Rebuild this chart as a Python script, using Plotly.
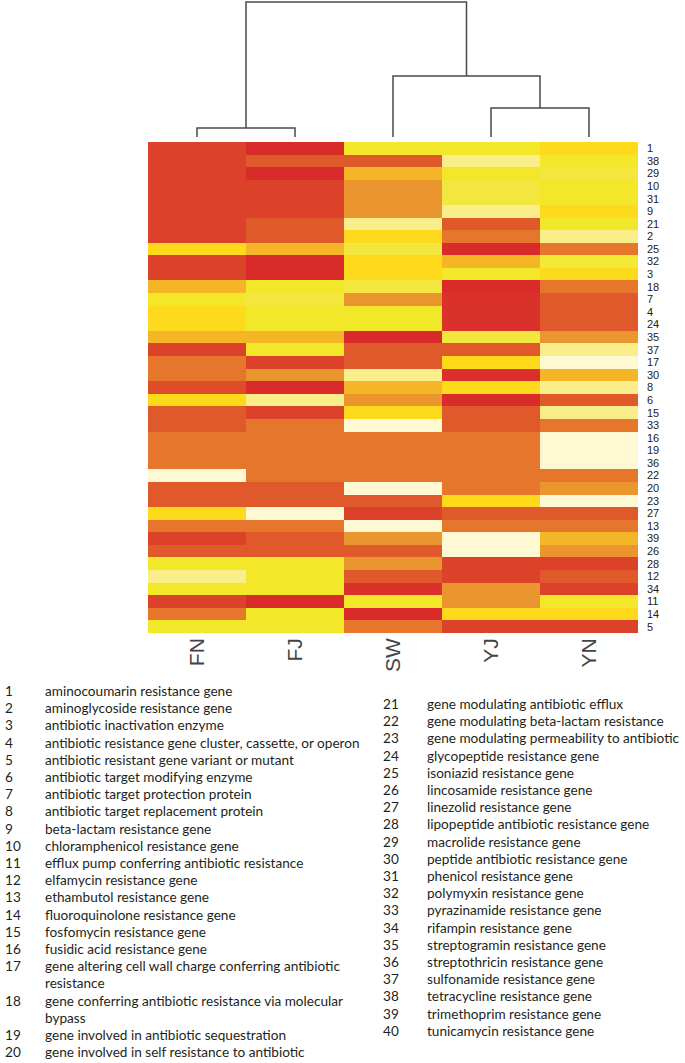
import plotly.graph_objects as go

# ---------------- data ----------------
columns = ["FN", "FJ", "SW", "YJ", "YN"]
row_labels = ["1", "38", "29", "10", "31", "9", "21", "2", "25", "32", "3", "18", "7", "4",
              "24", "35", "37", "17", "30", "8", "6", "15", "33", "16", "19", "36", "22",
              "20", "23", "27", "13", "39", "26", "28", "12", "34", "11", "14", "5"]

# colour level per cell (0 = red ... 10 = pale cream)
FN = [1, 1, 1, 1, 1, 1, 1, 1, 6, 1, 1, 5, 7, 6, 6, 5, 1, 3, 3, 1.5, 6, 2, 2, 3, 3, 3, 10,
      2, 2, 6, 3, 1, 2, 7, 9, 7, 1, 3, 7]
FJ = [0, 2, 0, 1, 1, 1, 2, 2, 5, 0, 0, 7, 8, 7, 7, 5, 7, 1, 4, 0, 9, 1, 3, 3, 3, 3, 3,
      2, 2, 10, 3, 2, 2, 7, 7, 7, 0, 7, 7]
SW = [7, 2, 5, 4, 4, 4, 9, 6, 8, 6, 6, 8, 4, 7, 7, 0, 2, 2, 9, 5, 4, 6, 10, 3, 3, 3, 3,
      10, 2, 1, 10, 4, 2, 4, 2, 0.3, 7, 0, 3]
YJ = [7, 9, 7, 8, 8, 9, 2, 3, 0, 5, 7, 0, 0.3, 0.3, 0.3, 8, 2, 6, 0.2, 6, 0, 2, 2, 3, 3, 3, 3,
      3, 6, 2, 3, 10, 10, 1, 1, 4, 4, 6, 1]
YN = [6, 7, 8, 7, 7, 6, 7, 9, 3, 7.5, 6, 3, 2, 2, 2, 4, 9, 10, 5, 9, 2, 9, 3, 10, 10, 10, 3,
      4, 10, 2, 3, 5, 4, 1, 2, 1, 7, 6, 1]

# heat colour levels 0..10
level_colors = ["#D92B2A", "#DC4129", "#E0592A", "#E6762B", "#EB952E", "#F4B626",
                "#FDDA1B", "#F2E829", "#F3E73F", "#F9EE8A", "#FEF8D3"]

# column dendrogram: merges (left node, right node, height)
dendro_left = ["FN", "YJ", "SW", "FN+FJ"]
dendro_right = ["FJ", "YN", "YJ+YN", "SW+YJ+YN"]
dendro_height = [9, 29, 61, 135]

# gene class legend
class_numbers = [str(i) for i in range(1, 41)]
class_names = [
    "aminocoumarin resistance gene",
    "aminoglycoside resistance gene",
    "antibiotic inactivation enzyme",
    "antibiotic resistance gene cluster, cassette, or operon",
    "antibiotic resistant gene variant or mutant",
    "antibiotic target modifying enzyme",
    "antibiotic target protection protein",
    "antibiotic target replacement protein",
    "beta-lactam resistance gene",
    "chloramphenicol resistance gene",
    "efflux pump conferring antibiotic resistance",
    "elfamycin resistance gene",
    "ethambutol resistance gene",
    "fluoroquinolone resistance gene",
    "fosfomycin resistance gene",
    "fusidic acid resistance gene",
    "gene altering cell wall charge conferring antibiotic\nresistance",
    "gene conferring antibiotic resistance via molecular\nbypass",
    "gene involved in antibiotic sequestration",
    "gene involved in self resistance to antibiotic",
    "gene modulating antibiotic efflux",
    "gene modulating beta-lactam resistance",
    "gene modulating permeability to antibiotic",
    "glycopeptide resistance gene",
    "isoniazid resistance gene",
    "lincosamide resistance gene",
    "linezolid resistance gene",
    "lipopeptide antibiotic resistance gene",
    "macrolide resistance gene",
    "peptide antibiotic resistance gene",
    "phenicol resistance gene",
    "polymyxin resistance gene",
    "pyrazinamide resistance gene",
    "rifampin resistance gene",
    "streptogramin resistance gene",
    "streptothricin resistance gene",
    "sulfonamide resistance gene",
    "tetracycline resistance gene",
    "trimethoprim resistance gene",
    "tunicamycin resistance gene",
]

# ---------------- figure ----------------
W, H = 685, 1063
px = lambda x: x / W
py = lambda y: 1 - y / H

z = [list(r) for r in zip(FN, FJ, SW, YJ, YN)]
n = len(level_colors) - 1
colorscale = [[i / n, c] for i, c in enumerate(level_colors)]

fig = go.Figure()
fig.add_trace(go.Heatmap(
    z=z, x=list(range(len(columns))), y=list(range(len(row_labels))),
    colorscale=colorscale, zmin=0, zmax=n, showscale=False,
    hoverinfo="skip", xaxis="x", yaxis="y",
))

# dendrogram from merge structure
pos = {c: float(i) for i, c in enumerate(columns)}
hgt = {c: 0.0 for c in columns}
for l, r, h in zip(dendro_left, dendro_right, dendro_height):
    xl, xr = pos[l], pos[r]
    fig.add_trace(go.Scatter(
        x=[xl, xl, xr, xr], y=[hgt[l], h, h, hgt[r]], mode="lines",
        line=dict(color="#4a4a4a", width=1.5), hoverinfo="skip",
        showlegend=False, xaxis="x", yaxis="y2", cliponaxis=False,
    ))
    node = l + "+" + r
    pos[node] = (xl + xr) / 2
    hgt[node] = h

fig.update_layout(
    width=W, height=H, margin=dict(l=0, r=0, t=0, b=0),
    paper_bgcolor="white", plot_bgcolor="white", showlegend=False,
    xaxis=dict(domain=[px(148), px(638)], range=[-0.5, 4.5], anchor="y",
               tickvals=list(range(len(columns))), ticktext=columns, tickangle=-90,
               ticks="", showgrid=False, zeroline=False, showline=False,
               tickfont=dict(family="Liberation Sans", size=21, color="#444444"),
               automargin=False, ticklabelstandoff=0),
    yaxis=dict(domain=[py(633), py(142)], range=[len(row_labels) - 0.5, -0.5],
               anchor="x", side="right", tickvals=list(range(len(row_labels))),
               ticktext=row_labels, ticks="", showgrid=False, zeroline=False,
               showline=False, automargin=False, ticklabelstandoff=8,
               tickfont=dict(family="Liberation Sans", size=11, color="#222222")),
    yaxis2=dict(domain=[py(142), 1], range=[-5, 137], anchor="x", visible=False,
                showgrid=False, zeroline=False),
)

# legend text as annotations
font = dict(family="Lato", size=13.6, color="#231F20")
ann = []

def add_column(nums, names, num_x, text_x, y0, step):
    line = 0
    for num, name in zip(nums, names):
        y = y0 + line * step
        ann.append(dict(x=px(num_x), y=py(y), xref="paper", yref="paper", text=num,
                        showarrow=False, xanchor="left", yanchor="middle", font=font))
        for k, part in enumerate(name.split("\n")):
            ann.append(dict(x=px(text_x), y=py(y + k * step), xref="paper", yref="paper",
                            text=part, showarrow=False, xanchor="left",
                            yanchor="middle", font=font))
            line += 1

add_column(class_numbers[:20], class_names[:20], 3, 43, 691, 17.2)
add_column(class_numbers[20:], class_names[20:], 381, 425, 704, 17.2)
fig.update_layout(annotations=ann)

fig.write_html("out.html", config={"displayModeBar": False},
               post_script="document.body.style.margin='0';")
